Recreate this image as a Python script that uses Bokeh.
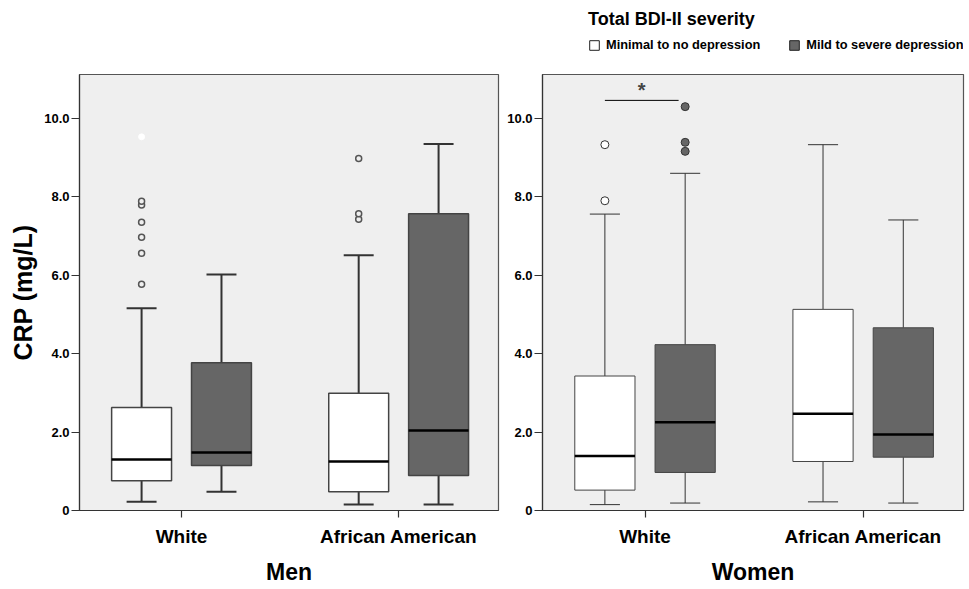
from bokeh.plotting import figure
from bokeh.models import Range1d, FixedTicker, Label, ColumnDataSource
from bokeh.layouts import row, column
from bokeh.embed import file_html
from bokeh.resources import INLINE

# ---------------- data ----------------
groups = ["White", "African American"]
severity = ["Minimal to no depression", "Mild to severe depression"]
panels = ["Men", "Women"]
# [lower whisker, Q1, median, Q3, upper whisker] for White, African American
men_minimal = [[0.22, 0.76, 1.30, 2.63, 5.16], [0.15, 0.48, 1.25, 2.99, 6.51]]
men_mild = [[0.48, 1.15, 1.48, 3.77, 6.02], [0.15, 0.89, 2.04, 7.57, 9.35]]
women_minimal = [[0.15, 0.52, 1.39, 3.43, 7.56], [0.22, 1.25, 2.47, 5.13, 9.33]]
women_mild = [[0.19, 0.97, 2.25, 4.23, 8.60], [0.19, 1.36, 1.94, 4.66, 7.41]]
men_minimal_outliers = [[5.77, 6.56, 6.97, 7.35, 7.79, 7.89], [7.43, 7.57, 8.98]]
men_minimal_extremes = [[9.53], []]
men_mild_outliers = [[], []]
women_minimal_outliers = [[7.90, 9.33], []]
women_mild_outliers = [[9.16, 9.39, 10.30], []]
y_ticks = [0, 2, 4, 6, 8, 10]
y_tick_labels = ["0", "2.0", "4.0", "6.0", "8.0", "10.0"]
significance_y = 10.46
significance_mark = "*"
legend_title = "Total BDI-II severity"

FONT = "Liberation Sans"
BG = "#efefef"
FILLS = ["#ffffff", "#666666"]
OFFSETS = [-0.184, 0.184]
BOX_W = 0.276
CAP_W = 0.138


def box_source(stats, k):
    xs = [i + OFFSETS[k] for i in range(len(groups))]
    return ColumnDataSource(dict(
        x=xs,
        lo=[s[0] for s in stats], q1=[s[1] for s in stats], med=[s[2] for s in stats],
        q3=[s[3] for s in stats], hi=[s[4] for s in stats],
        l=[x - BOX_W / 2 for x in xs], r=[x + BOX_W / 2 for x in xs],
        cl=[x - CAP_W / 2 for x in xs], cr=[x + CAP_W / 2 for x in xs]))


def make_panel(name, stats_pair, outliers_pair, extremes_pair, width, height, min_left, min_right,
               min_top, thick, show_ylabel):
    p = figure(width=width, height=height, output_backend="svg", toolbar_location=None,
               x_range=Range1d(-0.47, 1.46), y_range=Range1d(0, 11.12),
               min_border_left=min_left, min_border_right=min_right,
               min_border_top=min_top, min_border_bottom=75)
    p.background_fill_color = BG
    p.border_fill_color = "white"
    p.outline_line_color = "#555555"
    p.outline_line_width = 1.2
    p.xgrid.visible = False
    p.ygrid.visible = False

    wl = 2 if thick else 1
    bl = 1.5 if thick else 1
    for k, (stats, outs, exts) in enumerate(zip(stats_pair, outliers_pair, extremes_pair)):
        src = box_source(stats, k)
        xs = src.data["x"]
        p.segment(x0="x", y0="lo", x1="x", y1="q1", source=src, line_color="#333333", line_width=wl)
        p.segment(x0="x", y0="q3", x1="x", y1="hi", source=src, line_color="#333333", line_width=wl)
        p.segment(x0="cl", y0="lo", x1="cr", y1="lo", source=src, line_color="#333333", line_width=wl)
        p.segment(x0="cl", y0="hi", x1="cr", y1="hi", source=src, line_color="#333333", line_width=wl)
        p.quad(left="l", right="r", bottom="q1", top="q3", source=src,
               fill_color=FILLS[k], line_color="#444444", line_width=bl)
        p.segment(x0="l", y0="med", x1="r", y1="med", source=src, line_color="black", line_width=2.5)
        ox, oy = [], []
        for i, vals in enumerate(outs):
            ox += [xs[i]] * len(vals)
            oy += vals
        if oy:
            if thick:
                p.scatter(ox, oy, size=6, marker="circle", fill_color=BG, line_color="#555555", line_width=1.5)
            else:
                p.scatter(ox, oy, size=8, marker="circle", fill_color=FILLS[k], line_color="#333333", line_width=1)
        ex, ey = [], []
        for i, vals in enumerate(exts):
            ex += [xs[i]] * len(vals)
            ey += vals
        if ey:
            p.scatter(ex, ey, size=6, marker="circle", fill_color="white", line_color="white", line_width=1)

    # axes
    p.xaxis.ticker = FixedTicker(ticks=list(range(len(groups))))
    p.xaxis.major_label_overrides = {i: g for i, g in enumerate(groups)}
    p.xaxis.axis_label = name
    p.yaxis.ticker = FixedTicker(ticks=y_ticks)
    p.yaxis.major_label_overrides = dict(zip(y_ticks, y_tick_labels))
    if show_ylabel:
        p.yaxis.axis_label = "CRP (mg/L)"
    for ax in (p.xaxis[0], p.yaxis[0]):
        ax.axis_line_color = "#333333"
        ax.axis_line_width = 1.2
        ax.major_tick_line_color = "#333333"
        ax.major_tick_line_width = 1.2
        ax.major_tick_in = 0
        ax.minor_tick_line_color = None
        ax.major_label_text_font = FONT
        ax.major_label_text_font_style = "bold"
        ax.major_label_text_color = "black"
        ax.axis_label_text_font = FONT
        ax.axis_label_text_font_style = "bold"
        ax.axis_label_text_color = "black"
    p.xaxis.major_tick_out = 7
    p.xaxis.major_label_standoff = 8
    p.xaxis.major_label_text_font_size = "19px"
    p.xaxis.axis_label_text_font_size = "23px"
    p.xaxis.axis_label_standoff = 9
    p.yaxis.major_tick_out = 8
    p.yaxis.major_label_standoff = 2
    p.yaxis.major_label_text_font_size = "13px"
    p.yaxis.axis_label_text_font_size = "25px"
    p.yaxis.axis_label_standoff = 4
    return p


TOP = 74
W2 = 465
p1 = make_panel(panels[0], [men_minimal, men_mild], [men_minimal_outliers, men_mild_outliers],
                [men_minimal_extremes, [[], []]], 504, TOP + 438 + 75, 79, 6, TOP, True, True)
p2 = make_panel(panels[1], [women_minimal, women_mild], [women_minimal_outliers, women_mild_outliers],
                [[[], []], [[], []]], W2, 438 + 75, 35, 6, 0, False, False)

# significance bracket between White minimal and White mild (women)
x_a = 0 + OFFSETS[0]
x_b = 0 + OFFSETS[1] - 0.03
p2.line([x_a, x_b], [significance_y, significance_y], line_color="black", line_width=1)
p2.add_layout(Label(x=(x_a + x_b) / 2, y=significance_y, text=significance_mark,
                    text_font=FONT, text_font_style="bold", text_font_size="20px",
                    text_align="center", text_baseline="bottom", y_offset=-1))

# legend strip above the women panel (hidden copies of the women boxes supply the legend glyphs)
lf = figure(width=W2, height=TOP, output_backend="svg", toolbar_location=None,
            x_axis_location=None, y_axis_location=None,
            x_range=Range1d(-0.47, 1.46), y_range=Range1d(0, 11.12),
            min_border_left=0, min_border_right=0, min_border_top=0, min_border_bottom=0)
lf.xgrid.visible = False
lf.ygrid.visible = False
lf.outline_line_color = None
lf.background_fill_color = "white"
for k, stats in enumerate([women_minimal, women_mild]):
    r = lf.quad(left="l", right="r", bottom="q1", top="q3", source=box_source(stats, k),
                fill_color=FILLS[k], line_color="#222222", line_width=1, legend_label=severity[k])
    r.visible = False

leg = lf.legend[0]
leg.location = (46, 22)
leg.orientation = "horizontal"
leg.click_policy = "none"
leg.inactive_fill_alpha = 0
leg.title = legend_title
leg.title_text_font = FONT
leg.title_text_font_style = "bold"
leg.title_text_font_size = "18px"
leg.title_text_color = "black"
leg.title_standoff = 7
leg.label_text_font = FONT
leg.label_text_font_style = "bold"
leg.label_text_font_size = "12.8px"
leg.label_text_color = "black"
leg.label_height = 15
leg.glyph_width = 12
leg.glyph_height = 12
leg.label_standoff = 6
leg.spacing = 28
leg.padding = 0
leg.margin = 0
leg.border_line_color = None
leg.background_fill_alpha = 0

layout = row(p1, column(lf, p2))
open("out.html", "w").write(file_html(layout, INLINE))
